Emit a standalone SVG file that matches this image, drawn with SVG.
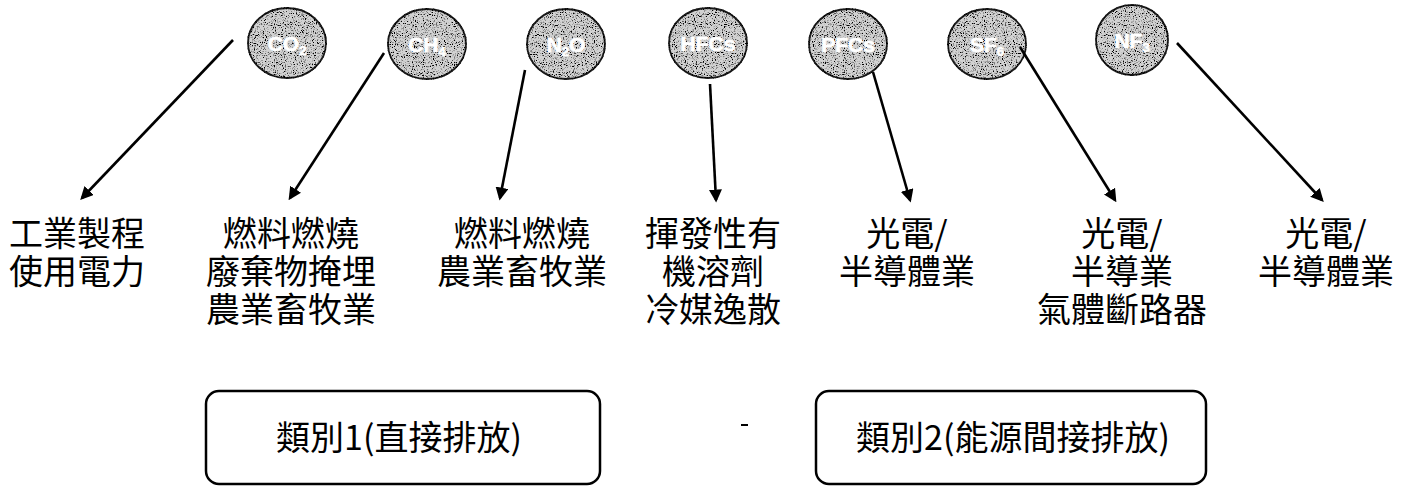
<svg xmlns="http://www.w3.org/2000/svg" width="1415" height="491" viewBox="0 0 1415 491">
<style>
.gas{fill:#d2d2d2;stroke:#1a1a1a;stroke-width:1.8;filter:url(#speckle)}
.gl{font-family:"Liberation Sans",Arial,sans-serif;font-weight:bold;font-size:21px;fill:#fff;text-anchor:middle;stroke:#fff;stroke-width:0.6}
.lbl{font-family:"Noto Sans CJK TC","Noto Sans CJK SC",sans-serif;font-size:34px;fill:#000;text-anchor:middle}
.box{fill:#fff;stroke:#000;stroke-width:2.5}
.bt{font-family:"Noto Sans CJK TC","Noto Sans CJK SC",sans-serif;font-size:34px;fill:#000;text-anchor:middle}
.arr{stroke:#000;stroke-width:2.6;fill:none;marker-end:url(#ah)}
</style>
<defs>
<marker id="ah" viewBox="0 0 10 10" refX="8" refY="5" markerWidth="5" markerHeight="5" orient="auto" markerUnits="strokeWidth">
<path d="M0,0 L10,5 L0,10 Z" fill="#000"/>
</marker>
<filter id="speckle" x="-5%" y="-5%" width="110%" height="110%">
<feTurbulence type="fractalNoise" baseFrequency="0.9" numOctaves="2" seed="7" result="n"/>
<feColorMatrix in="n" type="matrix" values="0 0 0 0 0  0 0 0 0 0  0 0 0 0 0  0 0 0 -5 2.45" result="dots"/>
<feComposite in="dots" in2="SourceGraphic" operator="in" result="d2"/>
<feMerge><feMergeNode in="SourceGraphic"/><feMergeNode in="d2"/></feMerge>
</filter>
</defs>
<rect width="1415" height="491" fill="#fff"/>

<g id="gas-co2"><ellipse class="gas" cx="287" cy="43" rx="39" ry="35"/><text class="gl" x="287" y="51">CO<tspan font-size="13" dy="4">2</tspan></text></g>
<g id="gas-ch4"><ellipse class="gas" cx="427" cy="44" rx="39" ry="35"/><text class="gl" x="427" y="52">CH<tspan font-size="13" dy="4">4</tspan></text></g>
<g id="gas-n2o"><ellipse class="gas" cx="566" cy="44" rx="39" ry="35"/><text class="gl" x="566" y="52">N<tspan font-size="13" dy="4">2</tspan><tspan dy="-4">O</tspan></text></g>
<g id="gas-hfcs"><ellipse class="gas" cx="708" cy="43" rx="39" ry="35"/><text class="gl" x="708" y="51">HFCs</text></g>
<g id="gas-pfcs"><ellipse class="gas" cx="848" cy="44" rx="39" ry="35"/><text class="gl" x="848" y="52">PFCs</text></g>
<g id="gas-sf6"><ellipse class="gas" cx="987" cy="44" rx="39" ry="35"/><text class="gl" x="987" y="52">SF<tspan font-size="13" dy="4">6</tspan></text></g>
<g id="gas-nf3"><ellipse class="gas" cx="1132" cy="40" rx="36" ry="35"/><text class="gl" x="1132" y="48">NF<tspan font-size="13" dy="4">3</tspan></text></g>

<g id="connectors">
<line class="arr" x1="233" y1="40" x2="82" y2="198"/>
<line class="arr" x1="384" y1="53" x2="290" y2="198"/>
<line class="arr" x1="525" y1="70" x2="500" y2="198"/>
<line class="arr" x1="710" y1="84" x2="716" y2="200"/>
<line class="arr" x1="873" y1="72" x2="910" y2="200"/>
<line class="arr" x1="1020" y1="47" x2="1115" y2="200"/>
<line class="arr" x1="1177" y1="43" x2="1322" y2="200"/>
</g>

<g id="src-1"><text class="lbl" x="77" y="246">工業製程<tspan x="77" dy="38">使用電力</tspan></text></g>
<g id="src-2"><text class="lbl" x="291" y="246">燃料燃燒<tspan x="291" dy="38">廢棄物掩埋</tspan><tspan x="291" dy="38">農業畜牧業</tspan></text></g>
<g id="src-3"><text class="lbl" x="522" y="246">燃料燃燒<tspan x="522" dy="38">農業畜牧業</tspan></text></g>
<g id="src-4"><text class="lbl" x="713" y="246">揮發性有<tspan x="713" dy="38">機溶劑</tspan><tspan x="713" dy="38">冷媒逸散</tspan></text></g>
<g id="src-5"><text class="lbl" x="907" y="246">光電/<tspan x="907" dy="38">半導體業</tspan></text></g>
<g id="src-6"><text class="lbl" x="1122" y="246">光電/<tspan x="1122" dy="38">半導業</tspan><tspan x="1122" dy="38">氣體斷路器</tspan></text></g>
<g id="src-7"><text class="lbl" x="1326" y="246">光電/<tspan x="1326" dy="38">半導體業</tspan></text></g>

<g id="cat-1"><rect class="box" x="206" y="391" width="394" height="93" rx="13"/><text class="bt" x="399" y="450">類別1(直接排放)</text></g>
<g id="cat-2"><rect class="box" x="816" y="391" width="390" height="93" rx="13"/><text class="bt" x="1013" y="450">類別2(能源間接排放)</text></g>
<rect x="741" y="424" width="7" height="2" fill="#000"/>
</svg>
